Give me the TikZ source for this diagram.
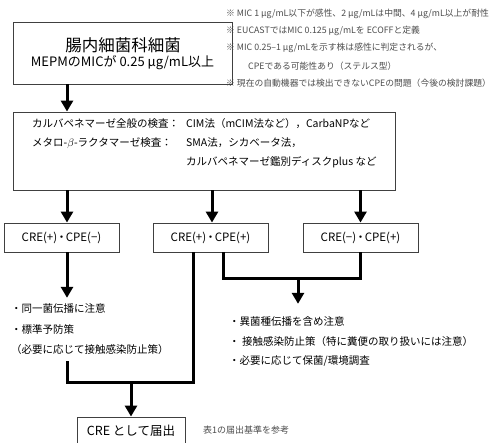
\documentclass[tikz,border=0pt]{standalone}
\usepackage{fontspec}
\setmainfont{Noto Sans CJK JP}
\usetikzlibrary{arrows.meta}
\newcommand{\tdot}{\kern-1.5bp・\kern-1.5bp}
\begin{document}
\begin{tikzpicture}[x=1bp, y=-1bp,
    box/.style={draw=black!75, line width=0.9bp, fill=white, inner sep=0pt},
    result/.style={box, minimum width=115bp, minimum height=29bp, font=\fontsize{11.5bp}{14bp}\selectfont},
    flow/.style={-{Triangle[width=12bp,length=11bp]}, line width=3bp},
    link/.style={line width=3bp},
    note/.style={text=black!70, font=\fontsize{8.8bp}{11bp}\selectfont, anchor=west, inner sep=0pt},
    txt/.style={font=\fontsize{10.5bp}{19bp}\selectfont, align=left, inner xsep=0pt}
]
    \useasboundingbox (0,0) rectangle (499,443);
    \clip (0,0) rectangle (499,443);

    \node[box, minimum width=219bp, minimum height=62bp] (enterobox) at (122.5,53) {};
    \node[inner sep=0pt, font=\fontsize{16.5bp}{20bp}\selectfont] (entero) at (123,45) {腸内細菌科細菌};
    \node[inner sep=0pt, font=\fontsize{13bp}{16bp}\selectfont] (mic) at (122.5,63) {MEPMのMICが 0.25 μg/mL以上};

    \node[note] (n1) at (226,14) {※ MIC 1 μg/mL以下が感性、2 μg/mLは中間、4 μg/mL以上が耐性};
    \node[note] (n2) at (226,31) {※ EUCASTではMIC 0.125 μg/mLを ECOFFと定義};
    \node[note] (n3) at (226,48) {※ MIC 0.25–1 μg/mLを示す株は感性に判定されるが、};
    \node[note] (n4) at (248,66) {CPEである可能性あり（ステルス型）};
    \node[note] (n5) at (226,83) {※ 現在の自動機器では検出できないCPEの問題（今後の検討課題）};

    \node[box, minimum width=382bp, minimum height=78bp] (kensa) at (204,151) {};
    \node[txt, inner ysep=0pt, anchor=north west] (kensaL) at (32,118.8) {カルバペネマーゼ全般の検査：\\メタロ-$\beta$-ラクタマーゼ検査：};
    \node[txt, inner ysep=0pt, anchor=north west] (kensaR) at (186,118.8) {CIM法（mCIM法など），CarbaNPなど\\SMA法，シカベータ法，\\カルバペネマーゼ鑑別ディスクplus など};

    \node[result] (crepm) at (61.5,237.5) {CRE(+)\tdot CPE(−)};
    \node[result] (crepp) at (210.5,237.5) {CRE(+)\tdot CPE(+)};
    \node[result] (cremp) at (360.5,237.5) {CRE(−)\tdot CPE(+)};

    \node[txt, font=\fontsize{10.5bp}{20.5bp}\selectfont, inner ysep=6bp, anchor=north west] (leftnote) at (11,297.8) {・同一菌伝播に注意\\・標準予防策\\（必要に応じて接触感染防止策）};
    \node[txt, font=\fontsize{10.5bp}{19.5bp}\selectfont, inner ysep=13bp, anchor=north west] (rightnote) at (229,303.8) {・異菌種伝播を含め注意\\・ 接触感染防止策（特に糞便の取り扱いには注意）\\・必要に応じて保菌/環境調査};

    \node[box, minimum width=108bp, minimum height=28bp, font=\fontsize{12.5bp}{15bp}\selectfont] (todoke) at (131,431) {CRE として届出};
    \node[note, font=\fontsize{9bp}{11bp}\selectfont] (hyo1) at (203,430) {表1の届出基準を参考};

    \coordinate (lx) at (67,0);
    \coordinate (mx) at (212,0);
    \coordinate (px) at (193,0);
    \coordinate (qx) at (223,0);
    \coordinate (ax) at (298,0);
    \coordinate (jl) at (0,382);
    \coordinate (jr) at (0,278);

    \draw[flow] (enterobox.south -| lx) -- (kensa.north -| lx);
    \draw[flow] (kensa.south -| lx) -- (crepm.north -| lx);
    \draw[flow] (kensa.south -| mx) -- (crepp.north -| mx);
    \draw[flow] (kensa.south -| cremp) -- (cremp.north);
    \draw[flow] (crepm.south -| lx) -- (leftnote.north -| lx);
    \draw[link] (leftnote.south -| lx) -- (lx |- jl) -- (px |- jl) -- (crepp.south -| px);
    \draw[flow] (todoke.north |- jl) -- (todoke.north);
    \draw[link] (crepp.south -| qx) -- (qx |- jr) -- (cremp.south |- jr) -- (cremp.south);
    \draw[flow] (ax |- jr) -- (rightnote.north -| ax);
\end{tikzpicture}
\end{document}
